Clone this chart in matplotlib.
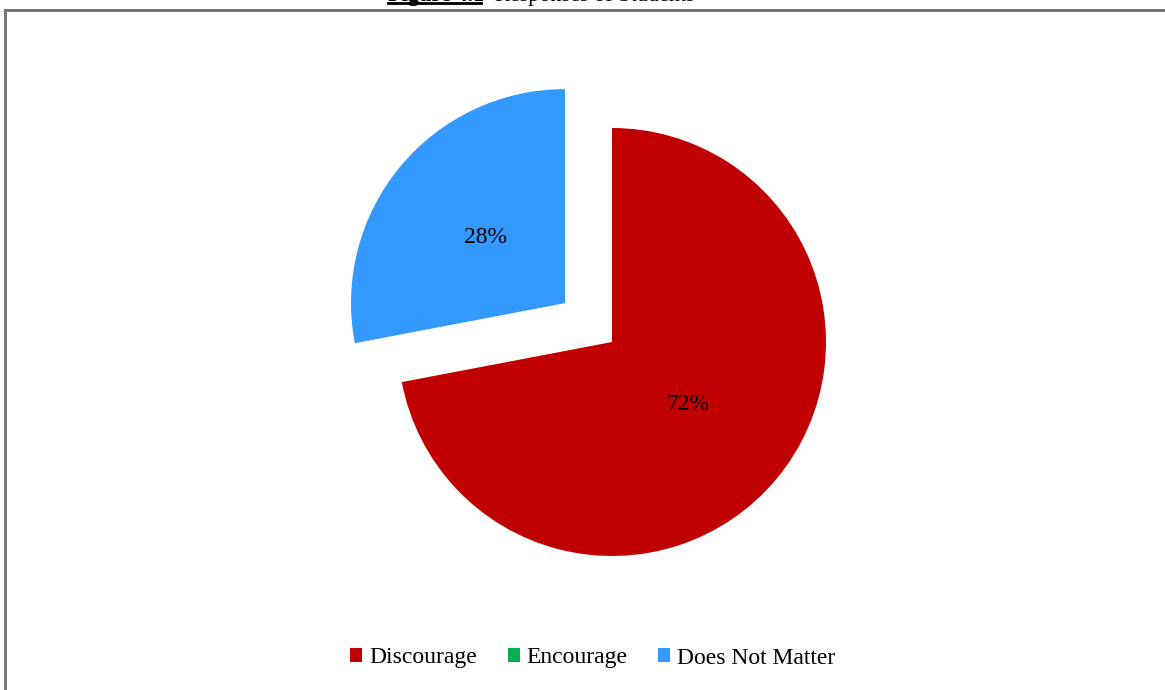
import matplotlib

matplotlib.use("Agg")

import matplotlib.pyplot as plt
from matplotlib.lines import Line2D
from matplotlib.patches import Patch

# response shares (%)
categories = ["Discourage", "Encourage", "Does Not Matter"]
shares = [72, 0, 28]
colors = ["#C00000", "#00B050", "#3399FF"]
explode = [0.0, 0.0, 0.285]

W, H = 1165, 690
CX, CY, R = 612, 342, 214  # pie centre and radius in pixels

plt.rcParams["font.family"] = ["Liberation Serif", "DejaVu Serif"]

fig = plt.figure(figsize=(W / 100, H / 100), dpi=100)
ax = fig.add_axes([0, 0, 1, 1])
ax.axis("off")


def pct(v):
    return f"{v:.0f}%" if v > 0.5 else ""


wedges, texts, autotexts = ax.pie(
    shares,
    colors=colors,
    explode=explode,
    startangle=90,
    counterclock=False,
    autopct=pct,
    pctdistance=0.46,
    radius=1.0,
    wedgeprops=dict(linewidth=0),
    textprops=dict(fontsize=17, color="black"),
)
# nudge the exploded slice's label a little further out from its tip
tip = (-0.285 * 0.770, 0.285 * 0.638)
x, y = autotexts[2].get_position()
autotexts[2].set_position((tip[0] + (x - tip[0]) * 1.05,
                           tip[1] + (y - tip[1]) * 1.05))

ax.set_xlim(-CX / R, (W - CX) / R)
ax.set_ylim(-(H - CY) / R, CY / R)
ax.set_aspect("auto")

# outer frame (top and left edges only are in view)
frame = dict(color="#707070", lw=2.0, transform=fig.transFigure)
fig.add_artist(Line2D([5 / W, 1], [1 - 10 / H, 1 - 10 / H], **frame))
fig.add_artist(Line2D([5 / W, 5 / W], [1 - 10 / H, 0], **frame))

# caption sitting above the frame, mostly cropped
fig.text(388 / W, 1 - 0.5 / H, "Figure 4.1", fontsize=16, fontweight="bold",
         ha="left", va="baseline")
fig.text(495 / W, 1 - 0.5 / H, "Responses of Students", fontsize=16,
         ha="left", va="baseline")
fig.add_artist(Line2D([388 / W, 481 / W], [1 - 3 / H, 1 - 3 / H],
                      color="black", lw=2.0, transform=fig.transFigure))

handles = [Patch(facecolor=c, edgecolor="none") for c in colors]
fig.legend(
    handles,
    categories,
    loc="center",
    bbox_to_anchor=(593 / W, 1 - 658 / H),
    ncol=3,
    frameon=False,
    fontsize=17,
    handlelength=0.5,
    handleheight=0.5,
    handletextpad=0.3,
    columnspacing=1.3,
)

fig.savefig("out.png", dpi=100)
